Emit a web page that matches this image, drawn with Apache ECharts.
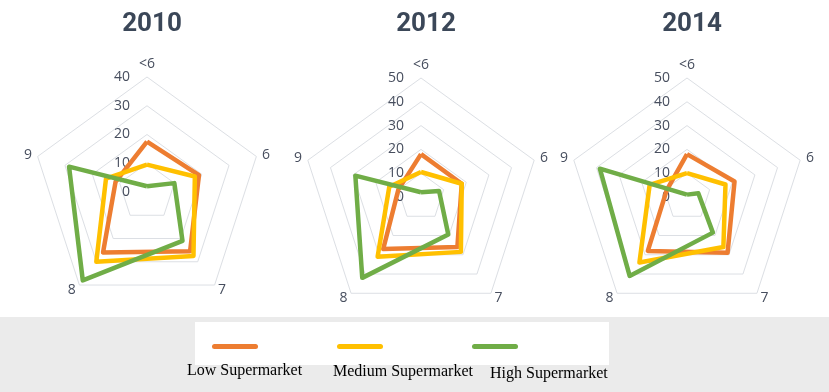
<!DOCTYPE html>
<html>
<head>
<meta charset="utf-8">
<script src="https://cdn.jsdelivr.net/npm/echarts@6/dist/echarts.min.js"></script>
<style>
  html, body { margin: 0; padding: 0; background: #fff; }
  #main { width: 829px; height: 392px; }
</style>
</head>
<body>
<div id="main"></div>
<script>
// categories in clockwise order as in the picture
var categories = ['<6', '6', '7', '8', '9'];
var years = ['2010', '2012', '2014'];
var axisMax = [40, 50, 50];
var tickLabels = ['0', '10', '20', '30', '40', '50'];
var seriesNames = ['Low Supermarket', 'Medium Supermarket', 'High Supermarket'];

var low2010 = [17.5, 19, 25.5, 26, 11.5];
var med2010 = [9.5, 17.5, 27.5, 30, 15];
var high2010 = [2, 10, 21, 38, 28.5];

var low2012 = [18, 18, 26, 27, 10];
var med2012 = [10.5, 18, 28.5, 31, 14];
var high2012 = [2, 8, 19.5, 42, 29];

var low2014 = [18, 21, 29, 28, 9];
var med2014 = [10, 17, 26, 34, 16.5];
var high2014 = [1, 5, 18.5, 41, 38.5];

var dataByYear = [
  [low2010, med2010, high2010],
  [low2012, med2012, high2012],
  [low2014, med2014, high2014]
];
var colors = ['#ED7D31', '#FFC000', '#70AD47'];

// echarts goes counter-clockwise, so walk the categories backwards after the first
var order = [0, 4, 3, 2, 1];
var centers = [[147, 192], [421, 197], [687, 197]];
var radii = [115, 119, 119];

var chart = echarts.init(document.getElementById('main'));

var radars = [], series = [], titles = [];
years.forEach(function (y, i) {
  titles.push({
    text: y,
    left: centers[i][0],
    top: 6,
    textAlign: 'center',
    textStyle: { fontFamily: 'Roboto', fontWeight: 'bold', fontSize: 26, color: '#3b4758' }
  });
  radars.push({
    center: centers[i],
    radius: radii[i],
    startAngle: 90,
    shape: 'polygon',
    splitNumber: axisMax[i] / 10,
    indicator: order.map(function (k, j) {
      var ind = { name: categories[k], min: 0, max: axisMax[i] };
      if (j === 0) {
        ind.axisLabel = {
          show: true,
          color: '#474e5e',
          fontFamily: 'Open Sans',
          fontSize: 14,
          margin: 17,
          formatter: function (v) { return tickLabels[v / 10]; }
        };
      }
      return ind;
    }),
    axisName: { color: '#474e5e', fontFamily: 'Open Sans', fontSize: 14 },
    nameGap: 6,
    axisLine: { show: false },
    axisTick: { show: false },
    axisLabel: { show: false },
    splitArea: { show: false },
    splitLine: { lineStyle: { color: '#dcdfe4', width: 1 } }
  });
  seriesNames.forEach(function (name, s) {
    series.push({
      type: 'radar',
      name: name,
      radarIndex: i,
      symbol: 'none',
      color: colors[s],
      lineStyle: { width: 4.5, color: colors[s], join: 'round' },
      data: [{ value: order.map(function (k) { return dataByYear[i][s][k]; }), name: name }]
    });
  });
});

var legendLeft = [212, 337, 472];
var legends = seriesNames.map(function (name, s) {
  return {
    data: [name],
    left: legendLeft[s],
    top: 344,
    padding: 0,
    icon: 'path://M2.5,0 L43.5,0 A2.5,2.5 0 0 1 43.5,5 L2.5,5 A2.5,2.5 0 0 1 2.5,0 Z',
    itemWidth: 46,
    itemHeight: 5,
    selectedMode: false,
    formatter: function () { return ''; }
  };
});

var labelPos = [[187, 372], [333, 373], [490, 375]];

chart.setOption({
  backgroundColor: '#fff',
  animation: false,
  title: titles,
  legend: legends,
  radar: radars,
  series: series,
  graphic: [
    { type: 'rect', left: 0, top: 317, z: -10, shape: { width: 829, height: 75 }, style: { fill: '#ebebeb' } },
    { type: 'rect', left: 195, top: 322, z: -9, shape: { width: 414, height: 43 }, style: { fill: '#fff' } }
  ].concat(seriesNames.map(function (name, s) {
    return {
      type: 'text',
      left: labelPos[s][0],
      top: labelPos[s][1] - 9,
      style: { text: name, fill: '#000', font: '16px "Liberation Serif"' }
    };
  }))
});
</script>
</body>
</html>
